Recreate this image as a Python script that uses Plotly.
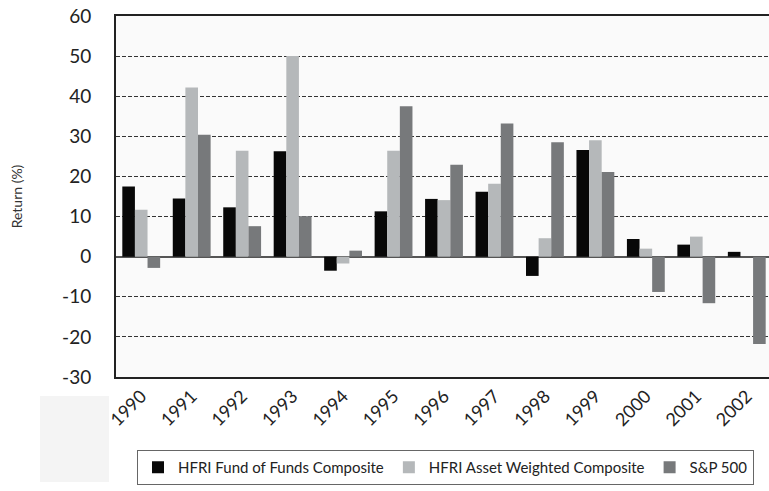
import plotly.graph_objects as go

years = ["1990", "1991", "1992", "1993", "1994", "1995", "1996",
         "1997", "1998", "1999", "2000", "2001", "2002"]
fund_of_funds = [17.5, 14.5, 12.3, 26.3, -3.5, 11.3, 14.4, 16.2, -4.8, 26.6, 4.4, 3.0, 1.2]
asset_weighted = [11.7, 42.2, 26.4, 50.0, -1.7, 26.4, 14.1, 18.2, 4.6, 29.0, 2.0, 5.0, 0.0]
sp500 = [-2.8, 30.4, 7.6, 10.1, 1.5, 37.5, 22.9, 33.2, 28.5, 21.1, -8.8, -11.6, -21.8]

y_tick_values = [-30, -20, -10, 0, 10, 20, 30, 40, 50, 60]
y_tick_labels = ["-30", "-20", "-10", "0", "10", "20", "30", "40", "50", "60"]

series_names = ["HFRI Fund of Funds Composite", "HFRI Asset Weighted Composite", "S&P 500"]
series_colors = ["#080808", "#b5b8ba", "#77797b"]

font_family = "Lato, 'Open Sans', sans-serif"

PLOT_W = 656
PLOT_H = 361
PX0 = 116   # x of plot left
PY1 = 377   # y of plot bottom

fig = go.Figure()
for name, vals, col in zip(series_names, [fund_of_funds, asset_weighted, sp500], series_colors):
    fig.add_trace(go.Bar(x=years, y=vals, name=name, marker=dict(color=col, line=dict(width=0))))

fig.update_layout(
    width=772, height=491,
    margin=dict(l=116, r=0, t=16, b=114),
    paper_bgcolor="white",
    plot_bgcolor="#fafafa",
    barmode="group",
    bargap=0.25,
    bargroupgap=0.0,
    font=dict(family=font_family, color="#222"),
    showlegend=True,
    legend=dict(
        orientation="h",
        x=(137 - PX0) / PLOT_W, xanchor="left",
        y=-(450 - PY1) / PLOT_H, yanchor="top",
        bordercolor="#666", borderwidth=1,
        bgcolor="white",
        font=dict(size=15, color="#222"),
        traceorder="normal",
    ),
    shapes=[dict(type="rect", xref="paper", yref="paper",
                 x0=(40 - PX0) / PLOT_W, x1=(109 - PX0) / PLOT_W,
                 y0=-(482 - PY1) / PLOT_H, y1=-(396 - PY1) / PLOT_H,
                 fillcolor="#f4f4f4", line=dict(width=0), layer="below")],
)

fig.update_xaxes(
    type="category",
    tickangle=-45,
    tickfont=dict(size=18, color="#222"),
    showline=True, linecolor="#222", linewidth=1.5, mirror=True,
    showgrid=False,
    ticks="",
    automargin=False,
)
fig.update_yaxes(
    range=[-30, 60],
    tickmode="array",
    tickvals=y_tick_values,
    ticktext=y_tick_labels,
    tickfont=dict(size=19, color="#222"),
    ticklabelstandoff=19,
    showline=True, linecolor="#222", linewidth=2, mirror=False,
    showgrid=True, gridcolor="#333", gridwidth=1.2, griddash="4px,2px",
    zeroline=True, zerolinecolor="#555", zerolinewidth=1.5,
    title=dict(text="Return (%)", font=dict(size=14, color="#333"), standoff=36),
    ticks="",
    automargin=False,
)

fig.write_html(
    "out.html",
    config={"displayModeBar": False},
    post_script="document.body.style.margin='0';document.body.style.overflow='hidden';",
)
